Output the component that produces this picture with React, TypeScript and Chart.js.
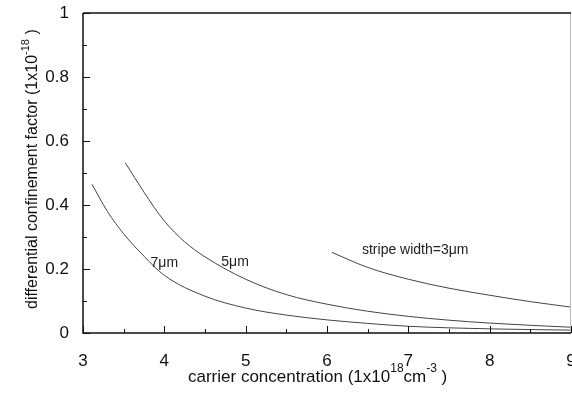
import React, { useEffect, useRef } from "react";
import { Chart, registerables } from "chart.js";

Chart.register(...registerables);

// carrier concentration (1e18 cm^-3) and differential confinement factor (1e-18)
const x7um = [3.11, 3.3, 3.5, 3.75, 4.0, 4.5, 5.0, 5.5, 6.0, 6.5, 7.0, 8.0, 9.0];
const y7um = [0.465, 0.38, 0.31, 0.24, 0.18, 0.115, 0.078, 0.056, 0.041, 0.03, 0.021, 0.013, 0.009];
const x5um = [3.52, 3.75, 4.0, 4.25, 4.5, 5.0, 5.5, 6.0, 6.5, 7.0, 7.5, 8.0, 8.5, 9.0];
const y5um = [0.532, 0.44, 0.35, 0.285, 0.238, 0.168, 0.12, 0.09, 0.068, 0.052, 0.04, 0.031, 0.024, 0.018];
const x3um = [6.06, 6.5, 7.0, 7.5, 8.0, 8.5, 9.0];
const y3um = [0.252, 0.205, 0.168, 0.14, 0.118, 0.098, 0.081];

const xTicks = [3, 4, 5, 6, 7, 8, 9];
const yTicks = [0, 0.2, 0.4, 0.6, 0.8, 1];

const FONT = "'Liberation Sans', Arial, sans-serif";

type Seg = { t: string; sup?: boolean };
const xTitle: Seg[] = [
  { t: "carrier concentration (1x10" },
  { t: "18", sup: true },
  { t: "cm" },
  { t: "-3", sup: true },
  { t: " )" },
];
const yTitle: Seg[] = [
  { t: "differential confinement factor (1x10" },
  { t: "-18", sup: true },
  { t: " )" },
];

function drawSegs(ctx: CanvasRenderingContext2D, segs: Seg[], x0: number, y0: number, size: number) {
  let x = x0;
  for (const s of segs) {
    const fs = s.sup ? Math.round(size * 0.7) : size;
    ctx.font = `${fs}px ${FONT}`;
    ctx.fillText(s.t, x, s.sup ? y0 - Math.round(size * 0.45) : y0);
    x += ctx.measureText(s.t).width;
  }
}

const framePlugin = {
  id: "frame",
  afterDraw(chart: any) {
    const { ctx, chartArea } = chart;
    const { left, right, top, bottom } = chartArea;
    const xs = chart.scales.x;
    const ys = chart.scales.y;
    ctx.save();
    // frame
    ctx.strokeStyle = "#bbb";
    ctx.lineWidth = 1;
    ctx.beginPath();
    ctx.moveTo(right - 0.5, top);
    ctx.lineTo(right - 0.5, bottom);
    ctx.stroke();
    ctx.strokeStyle = "#111";
    ctx.lineWidth = 1.5;
    ctx.beginPath();
    ctx.moveTo(left, top);
    ctx.lineTo(right, top);
    ctx.moveTo(left, top);
    ctx.lineTo(left, bottom);
    ctx.lineTo(right, bottom);
    ctx.stroke();
    // inward ticks
    ctx.lineWidth = 1;
    ctx.beginPath();
    for (let v = 3; v <= 9.001; v += 0.5) {
      const px = Math.round(xs.getPixelForValue(v)) + 0.5;
      const len = Math.abs(v - Math.round(v)) < 0.01 ? 7 : 4;
      ctx.moveTo(px, bottom);
      ctx.lineTo(px, bottom - len);
    }
    for (let v = 0; v <= 1.001; v += 0.1) {
      const py = Math.round(ys.getPixelForValue(v)) + 0.5;
      const major = Math.abs(v * 5 - Math.round(v * 5)) < 0.01;
      ctx.moveTo(left, py);
      ctx.lineTo(left + (major ? 7 : 4), py);
    }
    ctx.stroke();

    // axis titles
    ctx.fillStyle = "#111";
    ctx.textAlign = "left";
    ctx.textBaseline = "middle";
    drawSegs(ctx, xTitle, 188, 377, 17);
    ctx.save();
    ctx.translate(33, 309);
    ctx.rotate(-Math.PI / 2);
    drawSegs(ctx, yTitle, 0, 0, 16);
    ctx.restore();

    // curve labels
    ctx.font = `14px ${FONT}`;
    ctx.fillStyle = "#222";
    ctx.textAlign = "center";
    ctx.fillText("7\u03BCm", xs.getPixelForValue(4.0), ys.getPixelForValue(0.219));
    ctx.fillText("5\u03BCm", xs.getPixelForValue(4.87), ys.getPixelForValue(0.222));
    ctx.textAlign = "left";
    ctx.fillText("stripe width=3\u03BCm", xs.getPixelForValue(6.43), ys.getPixelForValue(0.259));
    ctx.restore();
  },
};

function toPts(xs: number[], ys: number[]) {
  return xs.map((x, i) => ({ x, y: ys[i] }));
}

export default function App() {
  const ref = useRef<HTMLCanvasElement>(null);
  useEffect(() => {
    const canvas = ref.current!;
    const lineStyle = {
      borderColor: "#444",
      borderWidth: 1,
      pointRadius: 0,
      fill: false,
      cubicInterpolationMode: "monotone" as const,
    };
    const chart = new Chart(canvas, {
      type: "line",
      data: {
        datasets: [
          { label: "7um", data: toPts(x7um, y7um), ...lineStyle },
          { label: "5um", data: toPts(x5um, y5um), ...lineStyle },
          { label: "3um", data: toPts(x3um, y3um), ...lineStyle },
        ],
      },
      options: {
        animation: false,
        responsive: false,
        devicePixelRatio: 1,
        layout: { padding: { top: 13, right: 1, left: 0, bottom: 0 } },
        plugins: { legend: { display: false }, tooltip: { enabled: false } },
        scales: {
          x: {
            type: "linear",
            min: 3,
            max: 9,
            afterBuildTicks: (s: any) => {
              s.ticks = xTicks.map((v) => ({ value: v }));
            },
            afterFit: (s: any) => {
              s.height = 60;
              s.paddingLeft = 0;
              s.paddingRight = 0;
            },
            grid: { display: false },
            border: { display: false },
            ticks: {
              color: "#111",
              font: { size: 17, family: FONT },
              padding: 10,
              maxRotation: 0,
              callback: (v: any) => String(v),
            },
          },
          y: {
            type: "linear",
            min: 0,
            max: 1,
            afterBuildTicks: (s: any) => {
              s.ticks = yTicks.map((v) => ({ value: v }));
            },
            afterFit: (s: any) => {
              s.width = 83;
              s.paddingTop = 0;
              s.paddingBottom = 0;
            },
            grid: { display: false },
            border: { display: false },
            ticks: {
              color: "#111",
              font: { size: 17, family: FONT },
              padding: 6,
              callback: (v: any) => String(Math.round(Number(v) * 10) / 10),
            },
          },
        },
      },
      plugins: [framePlugin],
    });
    return () => chart.destroy();
  }, []);
  return (
    <div style={{ position: "fixed", left: 0, top: 0, width: 572, height: 393, background: "#fff" }}>
      <canvas ref={ref} width={572} height={393} />
    </div>
  );
}
